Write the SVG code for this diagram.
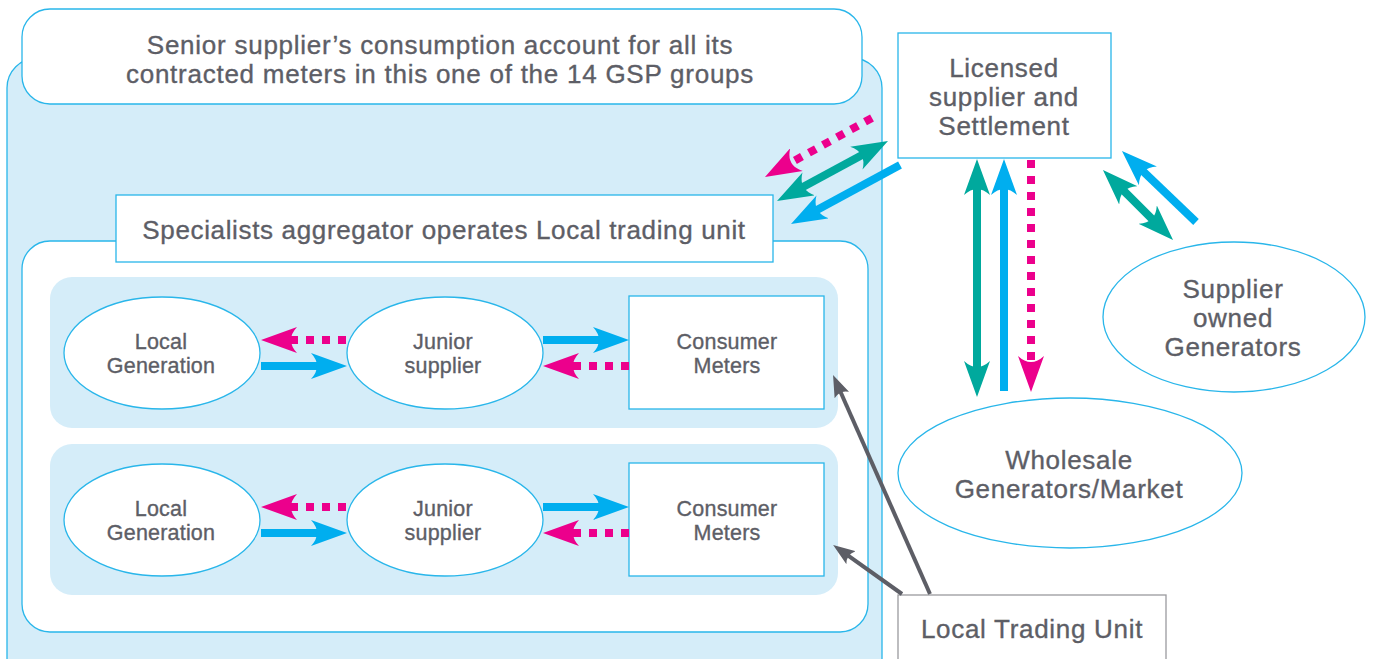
<svg xmlns="http://www.w3.org/2000/svg" width="1375" height="659" viewBox="0 0 1375 659">
<style>
.t{font-family:"Liberation Sans",Arial,sans-serif;fill:#5d5e66;stroke:#5d5e66;stroke-width:0.35;text-anchor:middle}
.big{font-size:26px;letter-spacing:0.7px}
.sm{font-size:21.5px;letter-spacing:0.2px}
.bx{fill:#fff;stroke:#29b6ea;stroke-width:1.3}
.lb{fill:#d5edf9}
.blue{stroke:#00aeef;stroke-width:8;fill:none}
.teal{stroke:#00a99d;stroke-width:8;fill:none}
.pink{stroke:#ec008c;stroke-width:8;fill:none;stroke-dasharray:8 8}
.gray{stroke:#5d5e66;stroke-width:4;fill:none}
</style>
<defs>
<marker id="hb" viewBox="0 0 36 26" refX="16" refY="13" markerWidth="36" markerHeight="26" markerUnits="userSpaceOnUse" orient="auto-start-reverse"><path d="M36,13 L0,0 Q12,13 0,26 Z" fill="#00aeef"/></marker>
<marker id="ht" viewBox="0 0 36 26" refX="16" refY="13" markerWidth="36" markerHeight="26" markerUnits="userSpaceOnUse" orient="auto-start-reverse"><path d="M36,13 L0,0 Q12,13 0,26 Z" fill="#00a99d"/></marker>
<marker id="hp" viewBox="0 0 36 26" refX="16" refY="13" markerWidth="36" markerHeight="26" markerUnits="userSpaceOnUse" orient="auto-start-reverse"><path d="M36,13 L0,0 Q12,13 0,26 Z" fill="#ec008c"/></marker>
<marker id="hg" viewBox="0 0 22 16" refX="10" refY="8" markerWidth="22" markerHeight="16" markerUnits="userSpaceOnUse" orient="auto"><path d="M22,8 L0,0 Q6,8 0,16 Z" fill="#5d5e66"/></marker>
</defs>

<g id="senior-account">
<rect class="lb" x="7" y="58" width="875" height="630" rx="30" stroke="#29b6ea" stroke-width="1.3"/>
<rect class="bx" x="22" y="9" width="840" height="95" rx="28"/>
<text class="t big" x="440" y="54" style="letter-spacing:0.75px">Senior supplier’s consumption account for all its</text>
<text class="t big" x="440" y="83" style="letter-spacing:0.75px">contracted meters in this one of the 14 GSP groups</text>
</g>

<g id="aggregator">
<rect class="bx" x="22" y="241" width="846" height="391" rx="28"/>
<rect class="bx" x="116" y="195" width="657" height="67"/>
<text class="t big" x="444" y="239" style="letter-spacing:0.65px">Specialists aggregator operates Local trading unit</text>
</g>

<g id="row1">
<rect class="lb" x="50" y="277" width="788" height="151" rx="22"/>
</g>
<g id="row2">
<rect class="lb" x="50" y="444" width="788" height="151" rx="22"/>
</g>

<g id="local-generation-1">
<ellipse class="bx" cx="162" cy="353" rx="98" ry="56"/>
<text class="t sm" x="161" y="349">Local</text>
<text class="t sm" x="161" y="373">Generation</text>
</g>
<g id="junior-supplier-1">
<ellipse class="bx" cx="445" cy="353" rx="98" ry="56"/>
<text class="t sm" x="443" y="349">Junior</text>
<text class="t sm" x="443" y="373">supplier</text>
</g>
<g id="consumer-meters-1">
<rect class="bx" x="629" y="296" width="195" height="113"/>
<text class="t sm" x="727" y="349">Consumer</text>
<text class="t sm" x="727" y="373">Meters</text>
</g>

<g id="local-generation-2">
<ellipse class="bx" cx="162" cy="520" rx="98" ry="56"/>
<text class="t sm" x="161" y="516">Local</text>
<text class="t sm" x="161" y="540">Generation</text>
</g>
<g id="junior-supplier-2">
<ellipse class="bx" cx="445" cy="520" rx="98" ry="56"/>
<text class="t sm" x="443" y="516">Junior</text>
<text class="t sm" x="443" y="540">supplier</text>
</g>
<g id="consumer-meters-2">
<rect class="bx" x="629" y="463" width="195" height="113"/>
<text class="t sm" x="727" y="516">Consumer</text>
<text class="t sm" x="727" y="540">Meters</text>
</g>

<g id="licensed-supplier">
<rect class="bx" x="898" y="33" width="213" height="125"/>
<text class="t big" x="1004" y="77">Licensed</text>
<text class="t big" x="1004" y="106">supplier and</text>
<text class="t big" x="1004" y="135">Settlement</text>
</g>

<g id="supplier-owned-generators">
<ellipse class="bx" cx="1234" cy="317" rx="131" ry="75"/>
<text class="t big" x="1233" y="298">Supplier</text>
<text class="t big" x="1233" y="327">owned</text>
<text class="t big" x="1233" y="356">Generators</text>
</g>

<g id="wholesale">
<ellipse class="bx" cx="1070" cy="473" rx="172" ry="75"/>
<text class="t big" x="1069" y="469">Wholesale</text>
<text class="t big" x="1069" y="498">Generators/Market</text>
</g>

<g id="local-trading-unit">
<rect x="898" y="595" width="268" height="80" fill="#fff" stroke="#9a9a9e" stroke-width="1.3"/>
<text class="t big" x="1032" y="638">Local Trading Unit</text>
</g>

<g id="connectors">
<line class="pink" x1="346" y1="340" x2="281" y2="340" marker-end="url(#hp)"/>
<line class="blue" x1="261" y1="366" x2="327" y2="366" marker-end="url(#hb)"/>
<line class="blue" x1="543" y1="340" x2="609" y2="340" marker-end="url(#hb)"/>
<line class="pink" x1="629" y1="366" x2="563" y2="366" marker-end="url(#hp)"/>

<line class="pink" x1="346" y1="507" x2="281" y2="507" marker-end="url(#hp)"/>
<line class="blue" x1="261" y1="533" x2="327" y2="533" marker-end="url(#hb)"/>
<line class="blue" x1="543" y1="507" x2="609" y2="507" marker-end="url(#hb)"/>
<line class="pink" x1="629" y1="533" x2="563" y2="533" marker-end="url(#hp)"/>

<line class="pink" x1="872" y1="118" x2="782.5" y2="167.3" marker-end="url(#hp)"/>
<line class="teal" x1="870.4" y1="150.5" x2="794.6" y2="191.5" marker-start="url(#ht)" marker-end="url(#ht)"/>
<line class="blue" x1="900" y1="165" x2="808.6" y2="214.5" marker-end="url(#hb)"/>

<line class="teal" x1="977" y1="179" x2="977" y2="377" marker-start="url(#ht)" marker-end="url(#ht)"/>
<line class="blue" x1="1004" y1="391" x2="1004" y2="179" marker-end="url(#hb)"/>
<line class="pink" x1="1031" y1="160" x2="1031" y2="372" marker-end="url(#hp)"/>

<line class="teal" x1="1117.1" y1="184.1" x2="1158.9" y2="225.9" marker-start="url(#ht)" marker-end="url(#ht)"/>
<line class="blue" x1="1196" y1="222" x2="1136.4" y2="164.8" marker-end="url(#hb)"/>

<line class="gray" x1="930" y1="594" x2="837.9" y2="386" marker-end="url(#hg)"/>
<line class="gray" x1="902" y1="594" x2="842.9" y2="551.9" marker-end="url(#hg)"/>
</g>
</svg>
